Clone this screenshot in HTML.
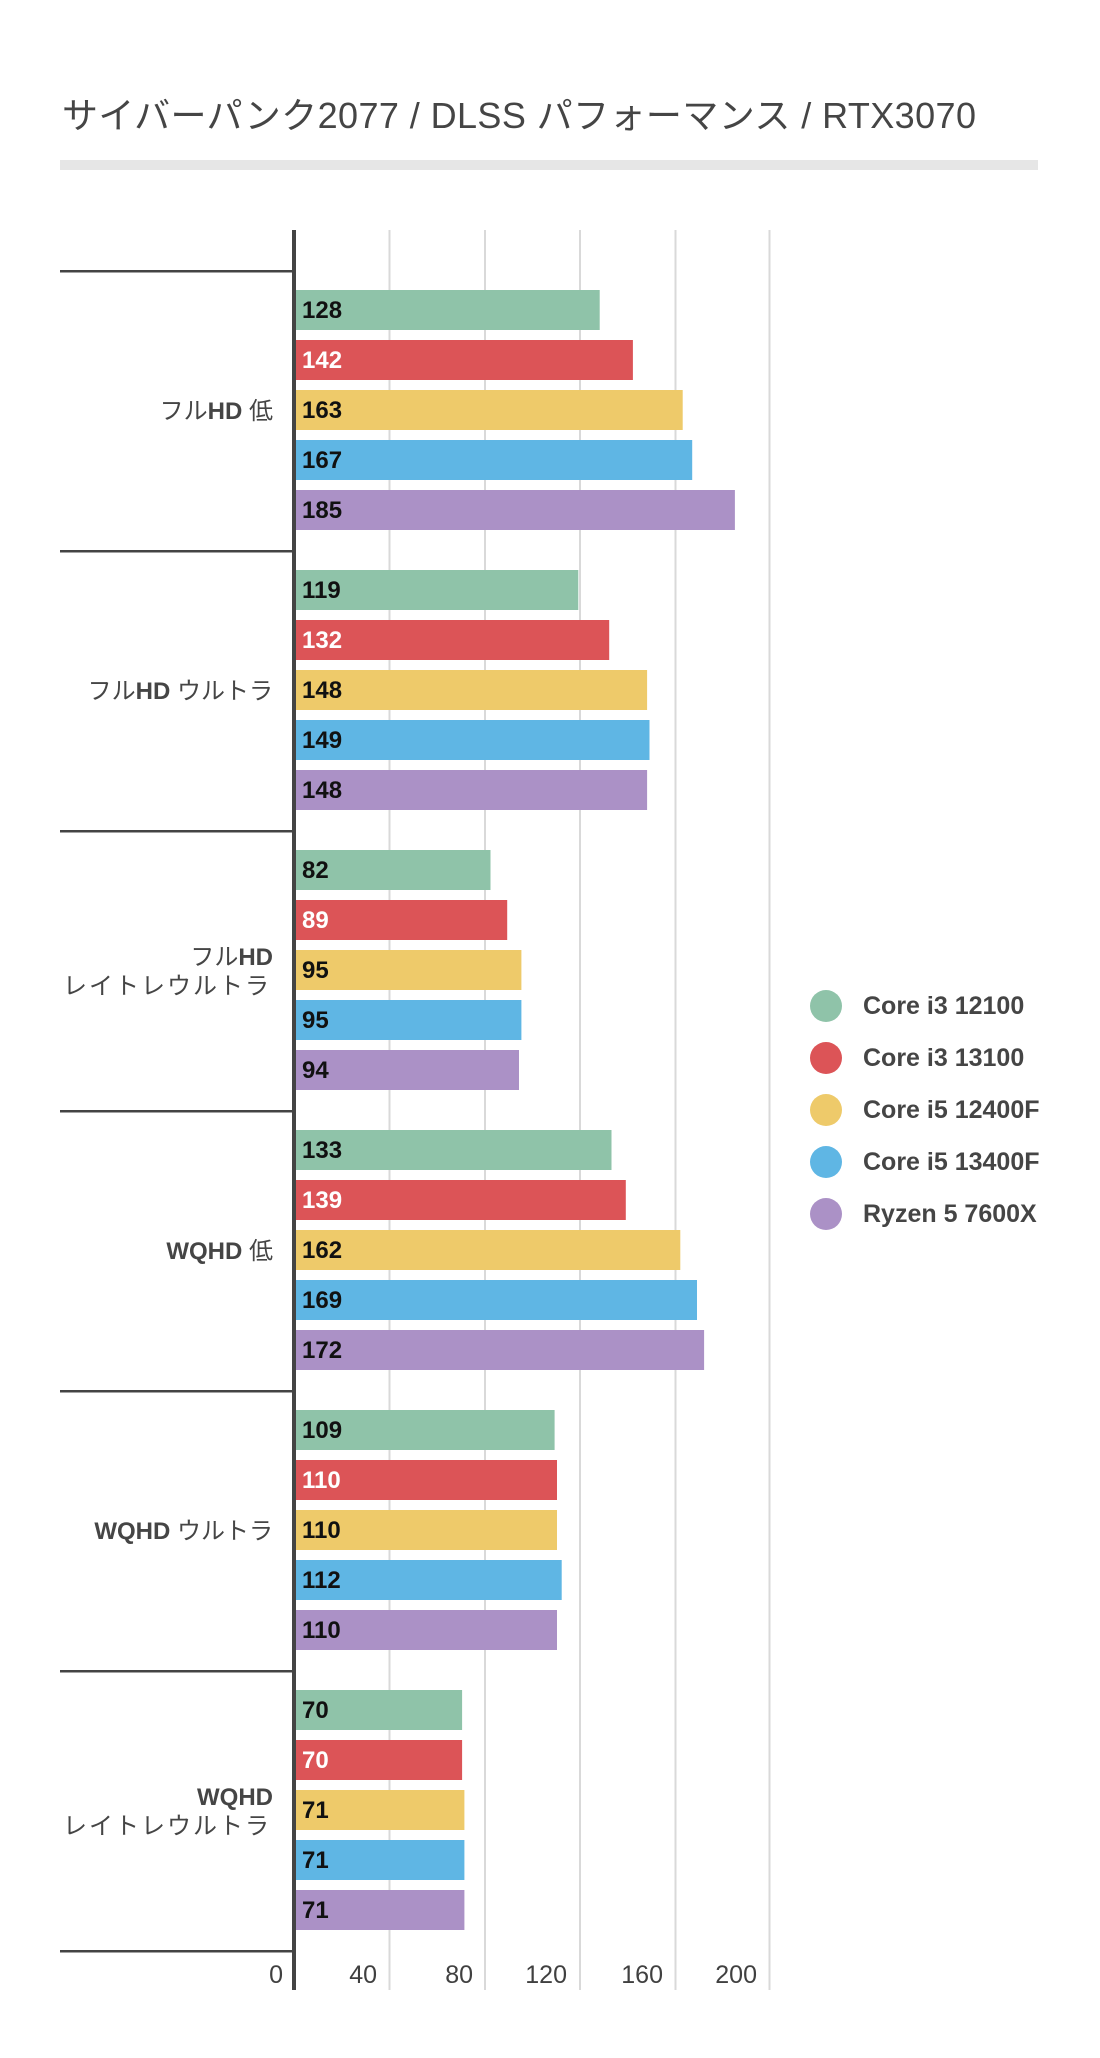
<!DOCTYPE html>
<html>
<head>
<meta charset="utf-8">
<style>
  html,body{margin:0;padding:0;background:#fff;}
  svg{display:block;}
  text{font-family:"Liberation Sans","Noto Sans CJK JP",sans-serif;}
</style>
</head>
<body>
<svg width="1100" height="2058" viewBox="0 0 1100 2058" xmlns="http://www.w3.org/2000/svg">
  <rect x="0" y="0" width="1100" height="2058" fill="#ffffff"/>

  <!-- Title -->
  <text x="62" y="128" font-size="36" fill="#454545" textLength="914" lengthAdjust="spacing">サイバーパンク2077 / DLSS パフォーマンス / RTX3070</text>
  <rect x="60" y="160" width="978" height="10" fill="#e6e6e6"/>

  <!-- Gridlines -->
  <g fill="#d9d9d9">
    <rect x="388.5" y="230" width="2" height="1760"/>
    <rect x="484" y="230" width="2" height="1760"/>
    <rect x="579" y="230" width="2" height="1760"/>
    <rect x="674.5" y="230" width="2" height="1760"/>
    <rect x="768.5" y="230" width="2" height="1760"/>
  </g>

  <!-- Group separators -->
  <g fill="#444444">
    <rect x="60" y="270" width="234" height="2.5"/>
    <rect x="60" y="550" width="234" height="2.5"/>
    <rect x="60" y="830" width="234" height="2.5"/>
    <rect x="60" y="1110" width="234" height="2.5"/>
    <rect x="60" y="1390" width="234" height="2.5"/>
    <rect x="60" y="1670" width="234" height="2.5"/>
    <rect x="60" y="1950" width="234" height="2.5"/>
  </g>

  <!-- Bars group 0 -->
  <g>
    <rect x="296" y="290" width="303.7" height="40" fill="#8fc3a9"/>
    <rect x="296" y="340" width="336.9" height="40" fill="#dc5457"/>
    <rect x="296" y="390" width="386.7" height="40" fill="#eeca6a"/>
    <rect x="296" y="440" width="396.2" height="40" fill="#5fb6e4"/>
    <rect x="296" y="490" width="438.9" height="40" fill="#ab91c6"/>
  </g>
  <!-- group 1 -->
  <g>
    <rect x="296" y="570" width="282.3" height="40" fill="#8fc3a9"/>
    <rect x="296" y="620" width="313.2" height="40" fill="#dc5457"/>
    <rect x="296" y="670" width="351.1" height="40" fill="#eeca6a"/>
    <rect x="296" y="720" width="353.5" height="40" fill="#5fb6e4"/>
    <rect x="296" y="770" width="351.1" height="40" fill="#ab91c6"/>
  </g>
  <!-- group 2 -->
  <g>
    <rect x="296" y="850" width="194.5" height="40" fill="#8fc3a9"/>
    <rect x="296" y="900" width="211.2" height="40" fill="#dc5457"/>
    <rect x="296" y="950" width="225.4" height="40" fill="#eeca6a"/>
    <rect x="296" y="1000" width="225.4" height="40" fill="#5fb6e4"/>
    <rect x="296" y="1050" width="223.0" height="40" fill="#ab91c6"/>
  </g>
  <!-- group 3 -->
  <g>
    <rect x="296" y="1130" width="315.5" height="40" fill="#8fc3a9"/>
    <rect x="296" y="1180" width="329.8" height="40" fill="#dc5457"/>
    <rect x="296" y="1230" width="384.3" height="40" fill="#eeca6a"/>
    <rect x="296" y="1280" width="401.0" height="40" fill="#5fb6e4"/>
    <rect x="296" y="1330" width="408.1" height="40" fill="#ab91c6"/>
  </g>
  <!-- group 4 -->
  <g>
    <rect x="296" y="1410" width="258.6" height="40" fill="#8fc3a9"/>
    <rect x="296" y="1460" width="261.0" height="40" fill="#dc5457"/>
    <rect x="296" y="1510" width="261.0" height="40" fill="#eeca6a"/>
    <rect x="296" y="1560" width="265.7" height="40" fill="#5fb6e4"/>
    <rect x="296" y="1610" width="261.0" height="40" fill="#ab91c6"/>
  </g>
  <!-- group 5 -->
  <g>
    <rect x="296" y="1690" width="166.1" height="40" fill="#8fc3a9"/>
    <rect x="296" y="1740" width="166.1" height="40" fill="#dc5457"/>
    <rect x="296" y="1790" width="168.4" height="40" fill="#eeca6a"/>
    <rect x="296" y="1840" width="168.4" height="40" fill="#5fb6e4"/>
    <rect x="296" y="1890" width="168.4" height="40" fill="#ab91c6"/>
  </g>

  <!-- Axis -->
  <rect x="292" y="230" width="4" height="1760" fill="#444444"/>

  <!-- Value labels -->
  <g font-size="24" font-weight="bold" fill="#111111">
    <text x="302" y="318">128</text>
    <text x="302" y="368" fill="#ffffff">142</text>
    <text x="302" y="418">163</text>
    <text x="302" y="468">167</text>
    <text x="302" y="518">185</text>

    <text x="302" y="598">119</text>
    <text x="302" y="648" fill="#ffffff">132</text>
    <text x="302" y="698">148</text>
    <text x="302" y="748">149</text>
    <text x="302" y="798">148</text>

    <text x="302" y="878">82</text>
    <text x="302" y="928" fill="#ffffff">89</text>
    <text x="302" y="978">95</text>
    <text x="302" y="1028">95</text>
    <text x="302" y="1078">94</text>

    <text x="302" y="1158">133</text>
    <text x="302" y="1208" fill="#ffffff">139</text>
    <text x="302" y="1258">162</text>
    <text x="302" y="1308">169</text>
    <text x="302" y="1358">172</text>

    <text x="302" y="1438">109</text>
    <text x="302" y="1488" fill="#ffffff">110</text>
    <text x="302" y="1538">110</text>
    <text x="302" y="1588">112</text>
    <text x="302" y="1638">110</text>

    <text x="302" y="1718">70</text>
    <text x="302" y="1768" fill="#ffffff">70</text>
    <text x="302" y="1818">71</text>
    <text x="302" y="1868">71</text>
    <text x="302" y="1918">71</text>
  </g>

  <!-- Category labels -->
  <g font-size="24" fill="#454545" text-anchor="end">
    <text x="273" y="419"><tspan>フル</tspan><tspan font-weight="bold">HD </tspan><tspan>低</tspan></text>
    <text x="273" y="699"><tspan>フル</tspan><tspan font-weight="bold">HD </tspan><tspan>ウルトラ</tspan></text>
    <text x="273" y="965"><tspan>フル</tspan><tspan font-weight="bold">HD</tspan></text>
    <text x="271" y="994" letter-spacing="2">レイトレウルトラ</text>
    <text x="273" y="1259"><tspan font-weight="bold">WQHD </tspan><tspan>低</tspan></text>
    <text x="273" y="1539"><tspan font-weight="bold">WQHD </tspan><tspan>ウルトラ</tspan></text>
    <text x="273" y="1805"><tspan font-weight="bold">WQHD</tspan></text>
    <text x="271" y="1834" letter-spacing="2">レイトレウルトラ</text>
  </g>

  <!-- Tick labels -->
  <g font-size="25" fill="#404040" text-anchor="end">
    <text x="283" y="1983">0</text>
    <text x="377" y="1983">40</text>
    <text x="473" y="1983">80</text>
    <text x="567" y="1983">120</text>
    <text x="663" y="1983">160</text>
    <text x="757" y="1983">200</text>
  </g>

  <!-- Legend -->
  <g>
    <circle cx="826" cy="1006" r="16" fill="#8fc3a9"/>
    <circle cx="826" cy="1058" r="16" fill="#dc5457"/>
    <circle cx="826" cy="1110" r="16" fill="#eeca6a"/>
    <circle cx="826" cy="1162" r="16" fill="#5fb6e4"/>
    <circle cx="826" cy="1214" r="16" fill="#ab91c6"/>
  </g>
  <g font-size="25" font-weight="bold" fill="#454545">
    <text x="863" y="1014">Core i3 12100</text>
    <text x="863" y="1066">Core i3 13100</text>
    <text x="863" y="1118">Core i5 12400F</text>
    <text x="863" y="1170">Core i5 13400F</text>
    <text x="863" y="1222">Ryzen 5 7600X</text>
  </g>
</svg>
</body>
</html>
